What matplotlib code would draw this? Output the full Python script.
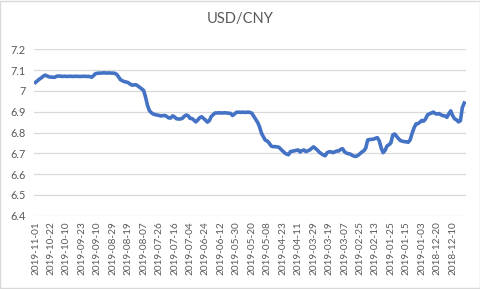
import matplotlib
matplotlib.use("Agg")
import matplotlib.pyplot as plt
from matplotlib.patches import Rectangle

plt.rcParams['font.family'] = ['Lato', 'DejaVu Sans']

# USD/CNY daily rate, newest first
rates = [
    7.041, 7.049, 7.057, 7.063, 7.071, 7.076, 7.072, 7.068, 7.067, 7.066,
    7.066, 7.071, 7.072, 7.071, 7.070, 7.071, 7.070, 7.070, 7.071, 7.070,
    7.070, 7.071, 7.070, 7.070, 7.070, 7.071, 7.070, 7.070, 7.070, 7.066,
    7.073, 7.083, 7.085, 7.086, 7.086, 7.087, 7.087, 7.086, 7.087, 7.086,
    7.086, 7.085, 7.080, 7.068, 7.054, 7.049, 7.045, 7.043, 7.040, 7.033,
    7.028, 7.029, 7.030, 7.024, 7.017, 7.010, 7.002, 6.970, 6.930, 6.905,
    6.895, 6.889, 6.886, 6.884, 6.882, 6.880, 6.881, 6.882, 6.877, 6.870,
    6.870, 6.880, 6.875, 6.866, 6.865, 6.865, 6.868, 6.878, 6.884, 6.881,
    6.868, 6.867, 6.860, 6.851, 6.860, 6.871, 6.876, 6.868, 6.860, 6.850,
    6.857, 6.877, 6.886, 6.894, 6.894, 6.895, 6.894, 6.894, 6.895, 6.894,
    6.893, 6.892, 6.882, 6.889, 6.897, 6.898, 6.897, 6.898, 6.897, 6.897,
    6.898, 6.897, 6.893, 6.878, 6.862, 6.849, 6.828, 6.797, 6.779, 6.763,
    6.759, 6.749, 6.735, 6.732, 6.732, 6.731, 6.729, 6.720, 6.711, 6.702,
    6.696, 6.693, 6.708, 6.710, 6.712, 6.714, 6.716, 6.706, 6.713, 6.716,
    6.708, 6.712, 6.716, 6.724, 6.731, 6.723, 6.715, 6.705, 6.698, 6.692,
    6.688, 6.703, 6.707, 6.707, 6.703, 6.707, 6.711, 6.711, 6.719, 6.722,
    6.707, 6.701, 6.698, 6.696, 6.690, 6.686, 6.685, 6.690, 6.698, 6.706,
    6.712, 6.725, 6.764, 6.766, 6.767, 6.768, 6.772, 6.775, 6.760, 6.725,
    6.703, 6.714, 6.735, 6.741, 6.750, 6.788, 6.793, 6.781, 6.770, 6.761,
    6.758, 6.756, 6.755, 6.753, 6.765, 6.796, 6.822, 6.841, 6.843, 6.849,
    6.858, 6.855, 6.866, 6.885, 6.890, 6.894, 6.898, 6.891, 6.889, 6.891,
    6.885, 6.881, 6.880, 6.873, 6.890, 6.904, 6.881, 6.866, 6.861, 6.851,
    6.857, 6.920, 6.942,
]

date_labels = [
    "2019-11-01", "2019-10-22", "2019-10-10", "2019-09-23", "2019-09-10",
    "2019-08-29", "2019-08-19", "2019-08-07", "2019-07-26", "2019-07-16",
    "2019-07-04", "2019-06-24", "2019-06-12", "2019-05-30", "2019-05-20",
    "2019-05-08", "2019-04-23", "2019-04-11", "2019-03-29", "2019-03-19",
    "2019-03-07", "2019-02-25", "2019-02-13", "2019-01-25", "2019-01-15",
    "2019-01-03", "2018-12-20", "2018-12-10",
]
label_step = 8

y_ticks = [6.4, 6.5, 6.6, 6.7, 6.8, 6.9, 7.0, 7.1, 7.2]
y_labels = ["6.4", "6.5", "6.6", "6.7", "6.8", "6.9", "7", "7.1", "7.2"]

grey = "#595959"

fig = plt.figure(figsize=(4.81, 2.89), dpi=100)
fig.patches.append(Rectangle((0.001, 0.002), 0.997, 0.995, transform=fig.transFigure,
                             fill=False, edgecolor="#d9d9d9", linewidth=1.0))
ax = fig.add_axes([0.071, 0.254, 0.897, 0.575])

x = list(range(len(rates)))
ax.plot(x, rates, color="#4472C4", linewidth=2.6, solid_joinstyle="round")

ax.set_ylim(6.4, 7.2)
ax.set_xlim(-0.7, len(rates) - 0.3)
ax.set_yticks(y_ticks)
ax.set_yticklabels(y_labels)
ax.set_xticks(x[::label_step])
ax.set_xticklabels(date_labels, rotation=90)

ax.grid(axis="y", color="#d9d9d9", linewidth=0.9)
ax.set_axisbelow(True)
for s in ["top", "right", "left", "bottom"]:
    ax.spines[s].set_visible(False)
ax.tick_params(axis="both", length=0, colors=grey, labelsize=7.2)
ax.tick_params(axis="y", pad=6, labelsize=7.8)
ax.tick_params(axis="x", pad=4)

fig.text(0.5, 0.935, "USD/CNY", ha="center", va="center", fontsize=10.5, color=grey)

fig.savefig("out.png", dpi=100, facecolor="white")
